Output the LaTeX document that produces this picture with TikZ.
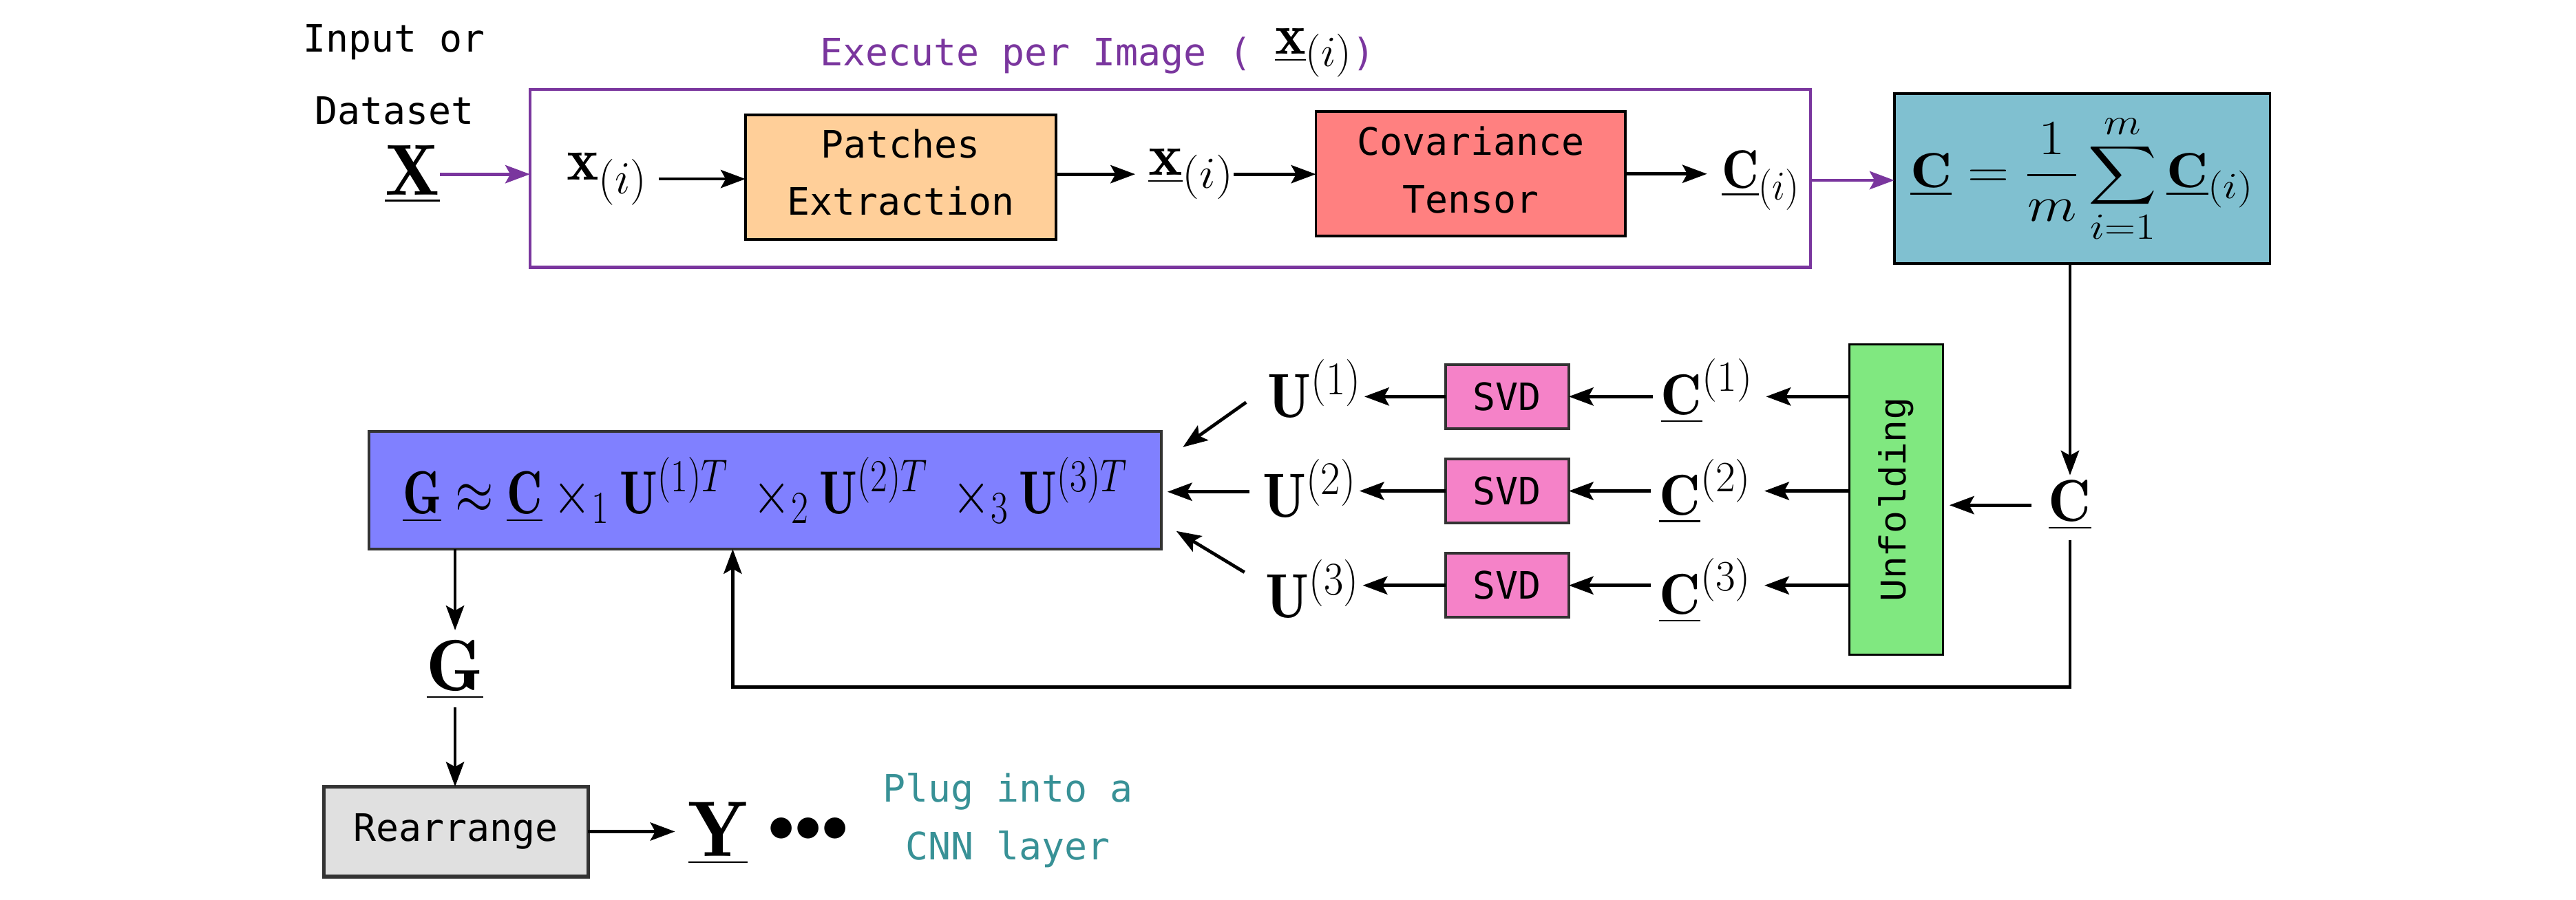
\RequirePackage{fix-cm}
\documentclass[tikz,border=0pt]{standalone}
\usepackage{amsmath}
\usepackage{fontspec}
\setmonofont{DejaVu Sans Mono}
\newfontfamily\unffont{Liberation Mono}
\usetikzlibrary{arrows.meta}
\DeclareMathSizes{30}{30}{22.5}{16.5}
\DeclareMathSizes{33}{33}{25}{18}
\DeclareMathSizes{34}{34}{25.5}{18.7}
\DeclareMathSizes{35}{35}{26.3}{19.3}
\DeclareMathSizes{36}{36}{27}{19.8}
\DeclareMathSizes{37}{37}{28}{20.4}
\DeclareMathSizes{38}{38}{28.5}{21}
\DeclareMathSizes{44}{44}{33}{24}
\DeclareMathSizes{48}{48}{36}{26.4}
\definecolor{purp}{RGB}{122,54,158}
\definecolor{peach}{RGB}{255,207,153}
\definecolor{salmon}{RGB}{255,128,128}
\definecolor{tealbox}{RGB}{128,192,208}
\definecolor{bluebox}{RGB}{128,128,255}
\definecolor{pinkbox}{RGB}{245,130,200}
\definecolor{greenbox}{RGB}{128,232,128}
\definecolor{graybox}{RGB}{224,224,224}
\definecolor{tealtxt}{RGB}{56,145,150}
\definecolor{dk}{RGB}{51,51,51}
\newcommand{\mono}{\fontsize{23}{35}\selectfont\ttfamily}
\newcommand{\msz}[1]{\fontsize{#1}{#1}\selectfont}
\newcommand{\fitw}[2]{\resizebox{#1pt}{\height}{#2}}
\newcommand{\dep}[1]{\rule[-#1pt]{0pt}{#1pt}}
\begin{document}
\begin{tikzpicture}[x=1pt,y=-1pt,
  lbl/.style={inner sep=0pt, outer sep=0pt},
  bx/.style={draw, inner sep=0pt, outer sep=0pt, align=center, font=\mono},
  arr/.style={-{Stealth[length=15pt,width=11pt,inset=3pt]}, line width=2pt},
]
\useasboundingbox (0,0) rectangle (1568,548);

% ---------- top row ----------
\node[lbl, align=center, font={\fontsize{23}{44}\selectfont\ttfamily}] (inp) at (240,45.6) {Input or\\Dataset};
\node[lbl, anchor=base] (X) at (251,118.7) {\msz{44}$\underline{\mathbf{X}}$};
\node[draw=purp, line width=2pt, minimum width=779.4, minimum height=108.2, inner sep=0pt, outer sep=0pt] (frame) at (712.3,108.6) {};
\node[lbl, anchor=base, text=purp, font=\mono] (title) at (668,40) {Execute per Image ( \raisebox{7pt}{\color{black}\msz{35}\fitw{47}{$\underline{\mathbf{x}}_{(i)}$}})};

\node[lbl, anchor=base] (xa) at (369.5,109.6) {\msz{37}\fitw{49}{$\mathbf{x}_{(i)}$}};
\node[bx, fill=peach, minimum width=188.9, minimum height=76.1, line width=1.6pt] (patch) at (548.2,107.9) {Patches\\Extraction\dep{6}};
\node[lbl, anchor=base] (xb) at (725,106.8) {\msz{36}\fitw{52}{$\underline{\mathbf{x}}_{(i)}$}};
\node[bx, fill=salmon, minimum width=188.5, minimum height=75.8, line width=1.6pt] (cov) at (895.2,105.9) {Covariance\\Tensor\dep{5}};
\node[lbl, anchor=base] (ci) at (1071.8,114.5) {\msz{33}\fitw{47.5}{$\underline{\mathbf{C}}_{(i)}$}};
\node[bx, fill=tealbox, minimum width=228.7, minimum height=103.5, line width=1.5pt] (mean) at (1267.4,108.8) {\msz{30}\fitw{209}{$\displaystyle \underline{\mathbf{C}} = \frac{1}{m}\sum_{i=1}^{m}\underline{\mathbf{C}}_{(i)}$}};

\draw[arr, purp] (X.east) -- (X.east -| frame.west);
\draw[arr, shorten <=7pt] (xa.east) -- (xa.east -| patch.west);
\draw[arr, shorten >=8pt] (xb.west -| patch.east) -- (xb.west);
\draw[arr] (xb.east) -- (xb.east -| cov.west);
\draw[arr, shorten >=9pt] (cov.east) -- (cov.east -| ci.west);
\draw[arr, purp, shorten <=7pt] (ci.east) -- (ci.east -| mean.west);

% ---------- middle ----------
\node[bx, fill=greenbox, minimum width=57, minimum height=189, line width=1.4pt] (unf) at (1154.1,304.2) {\rotatebox{90}{\unffont Unfolding}};
\node[lbl, anchor=base] (Cm) at (1260,317.5) {\msz{36}$\underline{\mathbf{C}}$};

\node[bx, fill=pinkbox, draw=dk, minimum width=75, minimum height=39, line width=1.8pt] (s1) at (917.4,241.5) {SVD};
\node[bx, fill=pinkbox, draw=dk, minimum width=75, minimum height=39, line width=1.8pt] (s2) at (917.4,299) {SVD};
\node[bx, fill=pinkbox, draw=dk, minimum width=75, minimum height=39, line width=1.8pt] (s3) at (917.4,356.5) {SVD};

\node[lbl, anchor=base] (c1) at (1039,252.5) {\msz{35}\fitw{56}{$\underline{\mathbf{C}}^{(1)}$}};
\node[lbl, anchor=base] (c2) at (1038,313.5) {\msz{35}\fitw{56}{$\underline{\mathbf{C}}^{(2)}$}};
\node[lbl, anchor=base] (c3) at (1038,374) {\msz{35}\fitw{56}{$\underline{\mathbf{C}}^{(3)}$}};
\node[lbl, anchor=base] (u1) at (800,254) {\msz{38}\fitw{57}{$\mathbf{U}^{(1)}$}};
\node[lbl, anchor=base] (u2) at (797,315) {\msz{38}\fitw{57}{$\mathbf{U}^{(2)}$}};
\node[lbl, anchor=base] (u3) at (799,376) {\msz{38}\fitw{57}{$\mathbf{U}^{(3)}$}};

\node[bx, fill=bluebox, draw=dk, line width=1.7pt, minimum width=482.5, minimum height=71.8] (blue) at (465.75,298.5) {\msz{37}\fitw{441}{$\underline{\mathbf{G}} \approx \underline{\mathbf{C}} \times_1 \mathbf{U}^{(1)T} \;\times_2 \mathbf{U}^{(2)T} \;\times_3 \mathbf{U}^{(3)T}$}};

\draw[arr, shorten >=3pt] (mean.south -| Cm.north) -- (Cm.north);
\draw[arr, shorten <=10.5pt, shorten >=4pt] (Cm.west) -- (Cm.west -| unf.east);

\draw[arr, shorten >=8pt] (s1 -| unf.west) -- (s1 -| c1.east);
\draw[arr, shorten >=8pt] (s2 -| unf.west) -- (s2 -| c2.east);
\draw[arr, shorten >=8pt] (s3 -| unf.west) -- (s3 -| c3.east);
\draw[arr, shorten <=5pt] (s1 -| c1.west) -- (s1.east);
\draw[arr, shorten <=5pt] (s2 -| c2.west) -- (s2.east);
\draw[arr, shorten <=5pt] (s3 -| c3.west) -- (s3.east);
\draw[arr, shorten >=2pt] (s1.west) -- (s1 -| u1.east);
\draw[arr, shorten >=2pt] (s2.west) -- (s2 -| u2.east);
\draw[arr, shorten >=2pt] (s3.west) -- (s3 -| u3.east);

\draw[arr] ([shift={(-13,3.5)}]s1 -| u1.west) -- ([shift={(13,9.7)}]blue.north east);
\draw[arr] ([shift={(-8,0.5)}]s2 -| u2.west) -- ([shift={(3.6,0.5)}]s2 -| blue.east);
\draw[arr] ([shift={(-13,-8)}]s3 -| u3.west) -- ([shift={(9,-11)}]blue.south east);

\coordinate (loop) at (446,418.5);
\draw[arr, shorten <=6pt] (Cm.south) |- (loop) -- (loop |- blue.south);

% ---------- bottom ----------
\node[lbl, anchor=base] (G) at (277,420.5) {\msz{44}$\underline{\mathbf{G}}$};
\node[bx, fill=graybox, draw=dk, line width=2.2pt, minimum width=161, minimum height=54.8] (rear) at (277.5,506.4) {Rearrange};
\node[lbl, anchor=base] (Y) at (437,521.6) {\msz{48}$\underline{\mathbf{Y}}$};
\node[lbl, anchor=base] (dots) at (492,512.7) {\msz{33}${\bullet}{\bullet}{\bullet}$};
\node[lbl, align=center, text=tealtxt, font=\mono] (plug) at (613.5,499.5) {Plug into a\\CNN layer};

\draw[arr, shorten >=6pt] (blue.south -| G.north) -- (G.north);
\draw[arr, shorten <=5pt] (G.south) -- (G.south |- rear.north);
\draw[arr, shorten >=8pt] (rear.east) -- (rear.east -| Y.west);
\end{tikzpicture}
\end{document}
